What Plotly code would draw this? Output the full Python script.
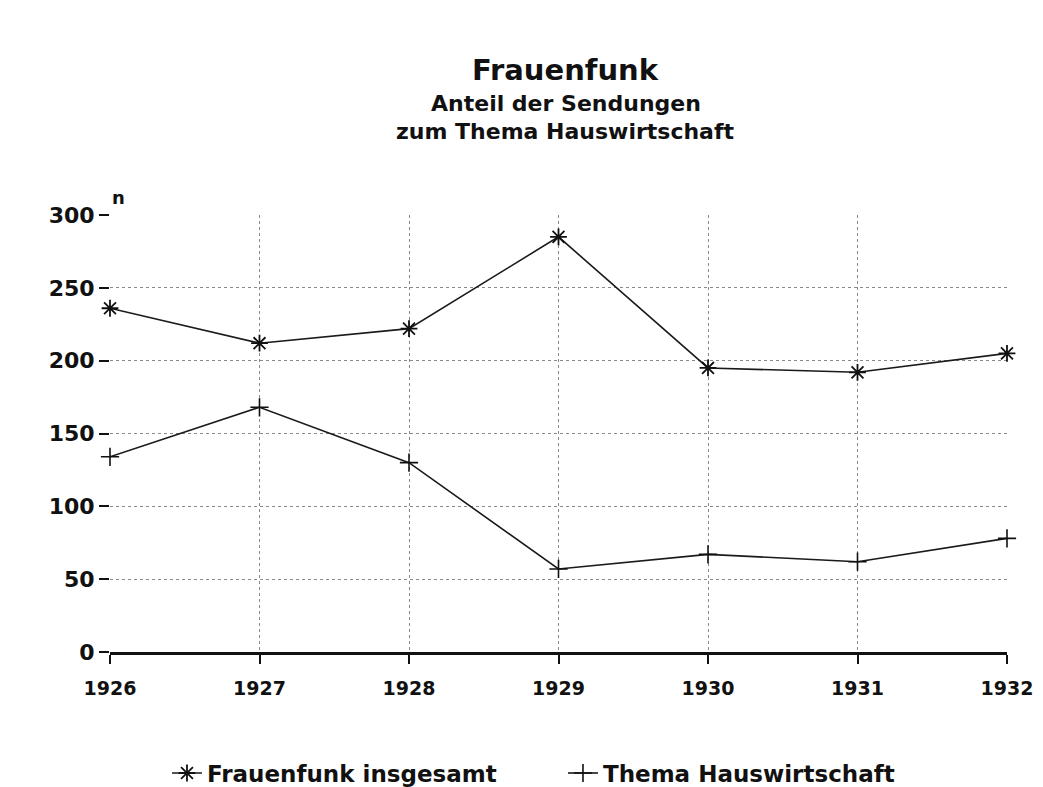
import plotly.graph_objects as go

years = [1926, 1927, 1928, 1929, 1930, 1931, 1932]
frauenfunk_insgesamt = [236, 212, 222, 285, 195, 192, 205]
thema_hauswirtschaft = [134, 168, 130, 57, 67, 62, 78]
y_ticks = [0, 50, 100, 150, 200, 250, 300]

FONT = "DejaVu Sans, Liberation Sans, Arial, sans-serif"

fig = go.Figure()
fig.add_trace(go.Scatter(
    x=years, y=frauenfunk_insgesamt, name="Frauenfunk insgesamt",
    mode="lines+markers", cliponaxis=False,
    line=dict(color="#1a1a1a", width=1.6),
    marker=dict(symbol="asterisk-open", size=14, color="#111111",
                line=dict(color="#111111", width=1.8)),
))
fig.add_trace(go.Scatter(
    x=years, y=thema_hauswirtschaft, name="Thema Hauswirtschaft",
    mode="lines+markers", cliponaxis=False,
    line=dict(color="#1a1a1a", width=1.6),
    marker=dict(symbol="cross-thin-open", size=13, color="#111111",
                line=dict(color="#111111", width=1.6)),
))

fig.update_layout(
    width=1035, height=779,
    paper_bgcolor="white", plot_bgcolor="white",
    margin=dict(l=102, r=36, t=207, b=135, autoexpand=False),
    font=dict(family=FONT, color="#111111"),
    showlegend=True,
    legend=dict(orientation="h", x=0.505, xanchor="center", y=-0.277, yanchor="middle",
                font=dict(size=23, family=FONT, weight="bold"),
                entrywidth=351, entrywidthmode="pixels",
                tracegroupgap=0),
    annotations=[
        dict(text="<b>Frauenfunk</b>", x=0.508, y=1.0, xref="paper", yref="paper",
             yanchor="middle", yshift=145, showarrow=False, font=dict(size=29, family=FONT)),
        dict(text="<b>Anteil der Sendungen</b>", x=0.508, y=1.0, xref="paper", yref="paper",
             yanchor="middle", yshift=112, showarrow=False, font=dict(size=22, family=FONT)),
        dict(text="<b>zum Thema Hauswirtschaft</b>", x=0.508, y=1.0, xref="paper", yref="paper",
             yanchor="middle", yshift=84, showarrow=False, font=dict(size=22, family=FONT)),
        dict(text="<b>n</b>", x=0.009, y=1.0, xref="paper", yref="paper", xanchor="center",
             yanchor="middle", yshift=18, showarrow=False, font=dict(size=18, family=FONT)),
    ],
)

fig.update_xaxes(
    range=[1926, 1932], tickvals=years, ticktext=[str(y) for y in years],
    showgrid=True, gridcolor="#8a8a8a", griddash="dot", gridwidth=1,
    showline=True, linecolor="#111111", linewidth=2.5,
    ticks="outside", ticklen=9, tickcolor="#111111", tickwidth=2,
    ticklabelstandoff=8,
    tickfont=dict(size=19, family=FONT, weight="bold"),
    zeroline=False, mirror=False,
)
fig.update_yaxes(
    range=[0, 300], tickvals=y_ticks,
    showgrid=True, gridcolor="#8a8a8a", griddash="dot", gridwidth=1,
    showline=False,
    ticks="outside", ticklen=10, tickcolor="#111111", tickwidth=2,
    tickfont=dict(size=22, family=FONT, weight="bold"),
    zeroline=False,
)

fig.write_html("out.html")
